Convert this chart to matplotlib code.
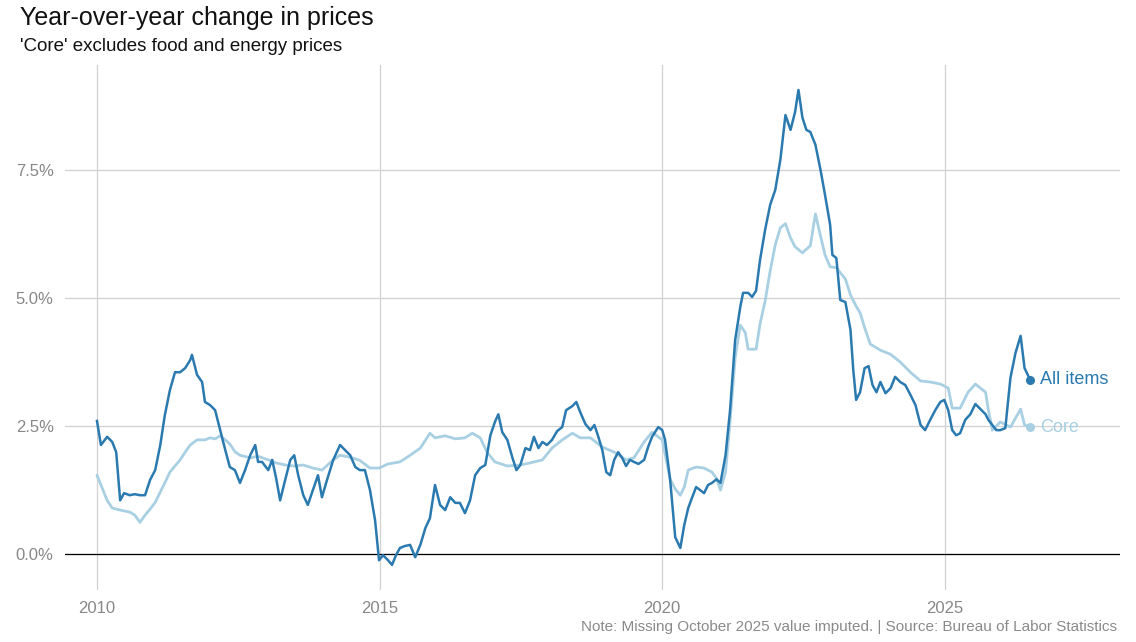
import matplotlib
matplotlib.use("Agg")
import matplotlib.pyplot as plt

plt.rcParams['font.family'] = ['Liberation Sans', 'DejaVu Sans']

all_years = [2010.00,2010.07,2010.18,2010.27,2010.34,2010.41,2010.48,2010.58,2010.67,2010.76,2010.85,2010.94,
 2011.03,2011.12,2011.20,2011.29,2011.38,2011.47,2011.56,2011.65,2011.68,2011.77,2011.86,2011.91,
 2012.00,2012.09,2012.18,2012.27,2012.35,2012.44,2012.53,2012.62,2012.71,2012.80,2012.85,2012.92,
 2013.03,2013.10,2013.17,2013.24,2013.33,2013.42,2013.49,2013.56,2013.65,2013.73,2013.82,2013.91,2013.98,
 2014.07,2014.18,2014.30,2014.39,2014.48,2014.57,2014.65,2014.74,2014.83,2014.92,2014.99,
 2015.06,2015.15,2015.22,2015.29,2015.36,2015.45,2015.54,2015.63,2015.72,2015.81,2015.89,2015.98,
 2016.07,2016.16,2016.25,2016.34,2016.42,2016.51,2016.60,2016.69,2016.78,2016.87,2016.96,
 2017.04,2017.10,2017.17,2017.26,2017.35,2017.42,2017.49,2017.58,2017.66,2017.73,2017.81,2017.88,2017.96,
 2018.05,2018.14,2018.23,2018.30,2018.41,2018.48,2018.55,2018.64,2018.73,2018.80,2018.87,2018.94,
 2019.01,2019.08,2019.15,2019.22,2019.29,2019.36,2019.43,2019.50,2019.58,2019.68,2019.75,2019.82,2019.93,
 2020.00,2020.05,2020.14,2020.23,2020.32,2020.39,2020.46,2020.53,2020.60,2020.67,2020.74,2020.81,2020.88,2020.96,
 2021.03,2021.12,2021.20,2021.29,2021.38,2021.43,2021.52,2021.59,2021.66,2021.73,2021.82,2021.91,
 2022.00,2022.09,2022.18,2022.27,2022.35,2022.41,2022.48,2022.55,2022.62,2022.71,2022.80,2022.88,2022.97,
 2023.01,2023.08,2023.15,2023.24,2023.33,2023.38,2023.43,2023.50,2023.58,2023.65,2023.72,2023.79,2023.86,2023.95,
 2024.04,2024.12,2024.21,2024.30,2024.39,2024.48,2024.57,2024.65,2024.74,2024.83,2024.92,2024.99,
 2025.06,2025.13,2025.20,2025.27,2025.36,2025.45,2025.54,2025.63,2025.72,2025.77,2025.84,2025.91,2025.98,
 2026.07,2026.16,2026.25,2026.34,2026.41,2026.51]
all_items = [2.60,2.13,2.29,2.19,1.99,1.05,1.19,1.15,1.17,1.15,1.15,1.45,
 1.64,2.13,2.71,3.20,3.55,3.55,3.63,3.79,3.89,3.50,3.36,2.97,
 2.91,2.81,2.42,2.03,1.70,1.64,1.39,1.64,1.93,2.13,1.80,1.80,
 1.64,1.84,1.48,1.05,1.45,1.84,1.93,1.54,1.15,0.96,1.25,1.54,1.11,
 1.45,1.84,2.13,2.03,1.93,1.70,1.64,1.64,1.25,0.66,-0.12,
 -0.02,-0.12,-0.21,-0.02,0.12,0.16,0.18,-0.06,0.18,0.51,0.70,1.35,
 0.96,0.86,1.11,1.00,1.00,0.80,1.05,1.54,1.68,1.74,2.32,
 2.58,2.73,2.38,2.23,1.88,1.64,1.74,2.07,2.03,2.29,2.07,2.19,2.13,
 2.23,2.40,2.48,2.81,2.89,2.97,2.77,2.54,2.42,2.52,2.29,2.03,
 1.60,1.54,1.84,1.99,1.88,1.72,1.84,1.80,1.76,1.84,2.09,2.29,2.48,
 2.42,2.23,1.45,0.33,0.12,0.57,0.90,1.11,1.31,1.25,1.19,1.35,1.39,1.46,
 1.39,1.93,2.81,4.18,4.82,5.10,5.10,5.02,5.14,5.74,6.33,6.82,
 7.11,7.70,8.57,8.28,8.63,9.06,8.52,8.28,8.24,7.99,7.50,7.01,6.43,
 5.84,5.78,4.96,4.92,4.38,3.59,3.01,3.16,3.63,3.67,3.30,3.16,3.36,3.14,
 3.24,3.46,3.36,3.30,3.11,2.91,2.52,2.42,2.62,2.81,2.97,3.01,
 2.81,2.42,2.32,2.36,2.62,2.73,2.93,2.83,2.73,2.62,2.52,2.42,2.42,
 2.46,3.44,3.93,4.26,3.63,3.40]

core_years = [2010.00,2010.18,2010.27,2010.41,2010.58,2010.67,2010.76,2010.85,2010.94,2011.03,2011.12,2011.20,
 2011.29,2011.38,2011.47,2011.56,2011.65,2011.77,2011.91,2012.00,2012.09,2012.18,2012.27,2012.35,2012.44,
 2012.53,2012.71,2012.85,2013.03,2013.17,2013.33,2013.49,2013.65,2013.82,2013.98,2014.18,2014.30,2014.48,
 2014.65,2014.83,2014.99,2015.15,2015.36,2015.54,2015.72,2015.89,2015.98,2016.16,2016.34,2016.51,2016.64,
 2016.78,2016.90,2017.04,2017.26,2017.49,2017.66,2017.88,2018.05,2018.23,2018.41,2018.55,2018.73,2018.94,
 2019.15,2019.36,2019.50,2019.68,2019.82,2020.00,2020.14,2020.23,2020.32,2020.39,2020.46,2020.60,2020.74,
 2020.88,2020.96,2021.03,2021.12,2021.20,2021.29,2021.38,2021.47,2021.52,2021.66,2021.73,2021.82,2021.91,
 2022.00,2022.09,2022.18,2022.27,2022.35,2022.48,2022.62,2022.71,2022.80,2022.88,2022.97,2023.08,2023.24,
 2023.33,2023.43,2023.50,2023.59,2023.68,2023.86,2024.04,2024.21,2024.39,2024.57,2024.74,2024.92,2025.06,
 2025.13,2025.27,2025.41,2025.54,2025.72,2025.77,2025.84,2025.98,2026.16,2026.34,2026.41,2026.51]
core = [1.54,1.05,0.90,0.86,0.82,0.76,0.62,0.76,0.88,1.01,1.21,1.39,
 1.60,1.72,1.84,1.99,2.13,2.23,2.23,2.27,2.25,2.31,2.23,2.15,2.00,
 1.93,1.88,1.91,1.84,1.78,1.74,1.72,1.74,1.68,1.64,1.84,1.93,1.89,
 1.83,1.68,1.68,1.76,1.80,1.93,2.07,2.36,2.27,2.31,2.25,2.27,2.36,
 2.27,1.99,1.80,1.72,1.74,1.78,1.84,2.07,2.23,2.36,2.27,2.27,2.09,
 1.99,1.84,1.88,2.19,2.38,2.23,1.46,1.27,1.15,1.31,1.64,1.70,1.68,
 1.60,1.48,1.25,1.60,2.60,3.83,4.47,4.32,4.00,4.00,4.49,4.94,5.53,
 6.04,6.37,6.45,6.17,6.00,5.88,6.02,6.64,6.21,5.84,5.61,5.59,5.37,
 5.06,4.84,4.71,4.39,4.10,3.98,3.90,3.75,3.55,3.38,3.36,3.32,3.24,
 2.85,2.85,3.16,3.32,3.16,2.81,2.42,2.58,2.48,2.83,2.52,2.48]

dark = '#2a7ab0'
light = '#a8d0e2'

fig = plt.figure(figsize=(11.36, 6.42), dpi=100)
ax = fig.add_axes([0.057, 0.081, 0.929, 0.818])
ax.plot(core_years, core, color=light, lw=2, solid_capstyle='round', zorder=3)
ax.plot(all_years, all_items, color=dark, lw=1.8, zorder=4)
ax.scatter([core_years[-1]], [core[-1]], color=light, s=30, zorder=5)
ax.scatter([all_years[-1]], [all_items[-1]], color=dark, s=30, zorder=5)
ax.text(core_years[-1] + 0.17, core[-1], 'Core', color=light, fontsize=13, va='center')
ax.text(all_years[-1] + 0.17, all_items[-1], 'All items', color=dark, fontsize=13, va='center')

ax.set_xlim(2009.43, 2028.1)
ax.set_ylim(-0.70, 9.55)
ax.set_xticks([2010, 2015, 2020, 2025])
ax.set_yticks([0, 2.5, 5, 7.5])
ax.set_yticklabels(['0.0%', '2.5%', '5.0%', '7.5%'])
ax.grid(True, color='#d0d0d0', lw=0.9)
ax.axhline(0, color='black', lw=0.9, zorder=2)
ax.set_axisbelow(True)
for s in ax.spines.values():
    s.set_visible(False)
ax.tick_params(length=0, labelsize=12, colors='#888888', pad=8)

fig.text(0.018, 0.972, 'Year-over-year change in prices', fontsize=18, color='#111111', va='center')
fig.text(0.018, 0.927, "'Core' excludes food and energy prices", fontsize=13.5, color='#111111', va='center')
fig.text(0.983, 0.012, 'Note: Missing October 2025 value imputed. | Source: Bureau of Labor Statistics',
         fontsize=11, color='#8a8a8a', ha='right', va='bottom')

fig.savefig('out.png', dpi=100, facecolor='white')
